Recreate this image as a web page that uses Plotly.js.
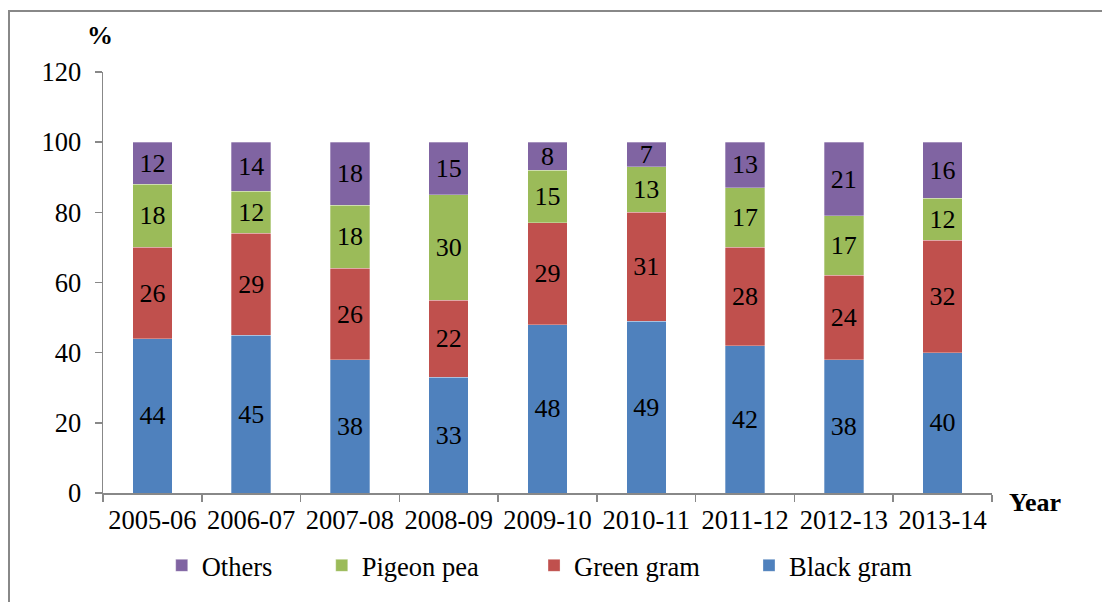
<!DOCTYPE html>
<html>
<head>
<meta charset="utf-8">
<script src="https://cdn.plot.ly/plotly-3.0.1.min.js"></script>
<style>
  html, body { margin: 0; padding: 0; background: #fff; }
  #wrap { position: relative; width: 1102px; height: 602px; overflow: hidden; }
  #chart { position: absolute; left: 0; top: 0; width: 1102px; height: 602px; }
  #frame { position: absolute; left: 8px; top: 10px; width: 1200px; height: 700px;
           border: 2px solid #888; pointer-events: none; box-sizing: border-box; }
</style>
</head>
<body>
<div id="wrap">
  <div id="chart"></div>
  <div id="frame"></div>
</div>
<script>
const years = ["2005-06","2006-07","2007-08","2008-09","2009-10","2010-11","2011-12","2012-13","2013-14"];
const blackGram = [44, 45, 38, 33, 48, 49, 42, 38, 40];
const greenGram = [26, 29, 26, 22, 29, 31, 28, 24, 32];
const pigeonPea = [18, 12, 18, 30, 15, 13, 17, 17, 12];
const others    = [12, 14, 18, 15, 8, 7, 13, 21, 16];
const yTicks = [0, 20, 40, 60, 80, 100, 120];

const FONT = "Liberation Serif";
const FS = 26.5;
function series(name, vals, color, legendId) {
  return {
    type: "bar", name: name, x: years, y: vals, legend: legendId,
    text: vals.map(String), textposition: "inside", insidetextanchor: "middle",
    constraintext: "none", textangle: 0,
    textfont: { family: FONT, size: 26, color: "#000" },
    marker: { color: color, line: { color: "rgba(255,255,255,0.5)", width: 0.6 } },
    hoverinfo: "none"
  };
}
const data = [
  series("Black gram", blackGram, "#4F81BD", "legend4"),
  series("Green gram", greenGram, "#C0504D", "legend3"),
  series("Pigeon pea", pigeonPea, "#9BBB59", "legend2"),
  series("Others", others, "#8064A2", "legend")
];
function leg(x) {
  return { orientation: "h", x: x, xanchor: "left", y: -0.1725, yanchor: "middle",
           bgcolor: "rgba(0,0,0,0)", borderwidth: 0, indentation: -6,
           font: { family: FONT, size: FS, color: "#000" } };
}
const layout = {
  width: 1102, height: 602,
  margin: { l: 103, r: 110, t: 72, b: 104, pad: 0 },
  barmode: "stack", bargap: 0.6,
  paper_bgcolor: "#fff", plot_bgcolor: "#fff",
  font: { family: FONT, size: FS, color: "#000" },
  showlegend: true,
  legend: leg(0.0728),
  legend2: leg(0.2528),
  legend3: leg(0.4916),
  legend4: leg(0.7334),
  xaxis: { type: "category", showline: true, linecolor: "#888", linewidth: 1.5,
           ticks: "outside", tickson: "boundaries", ticklen: 7, tickcolor: "#888", tickwidth: 1.5,
           showgrid: false, zeroline: false, ticklabelstandoff: 3,
           tickfont: { family: FONT, size: FS } },
  yaxis: { range: [0, 120], tickvals: yTicks, ticktext: yTicks.map(String),
           showline: true, linecolor: "#888", linewidth: 1.5,
           ticks: "outside", ticklen: 7, tickcolor: "#888", tickwidth: 1.5,
           showgrid: false, zeroline: false, ticklabelstandoff: 8,
           tickfont: { family: FONT, size: FS } },
  annotations: [
    { text: "<b>%</b>", xref: "paper", yref: "paper", x: -0.0034, y: 1.087,
      xanchor: "center", yanchor: "middle", showarrow: false, font: { family: FONT, size: 26 } },
    { text: "<b>Year</b>", xref: "paper", yref: "paper", x: 1.048, y: -0.022,
      xanchor: "center", yanchor: "middle", showarrow: false, font: { family: FONT, size: 26 } }
  ]
};
Plotly.newPlot("chart", data, layout, { displayModeBar: false, staticPlot: true });
</script>
</body>
</html>
